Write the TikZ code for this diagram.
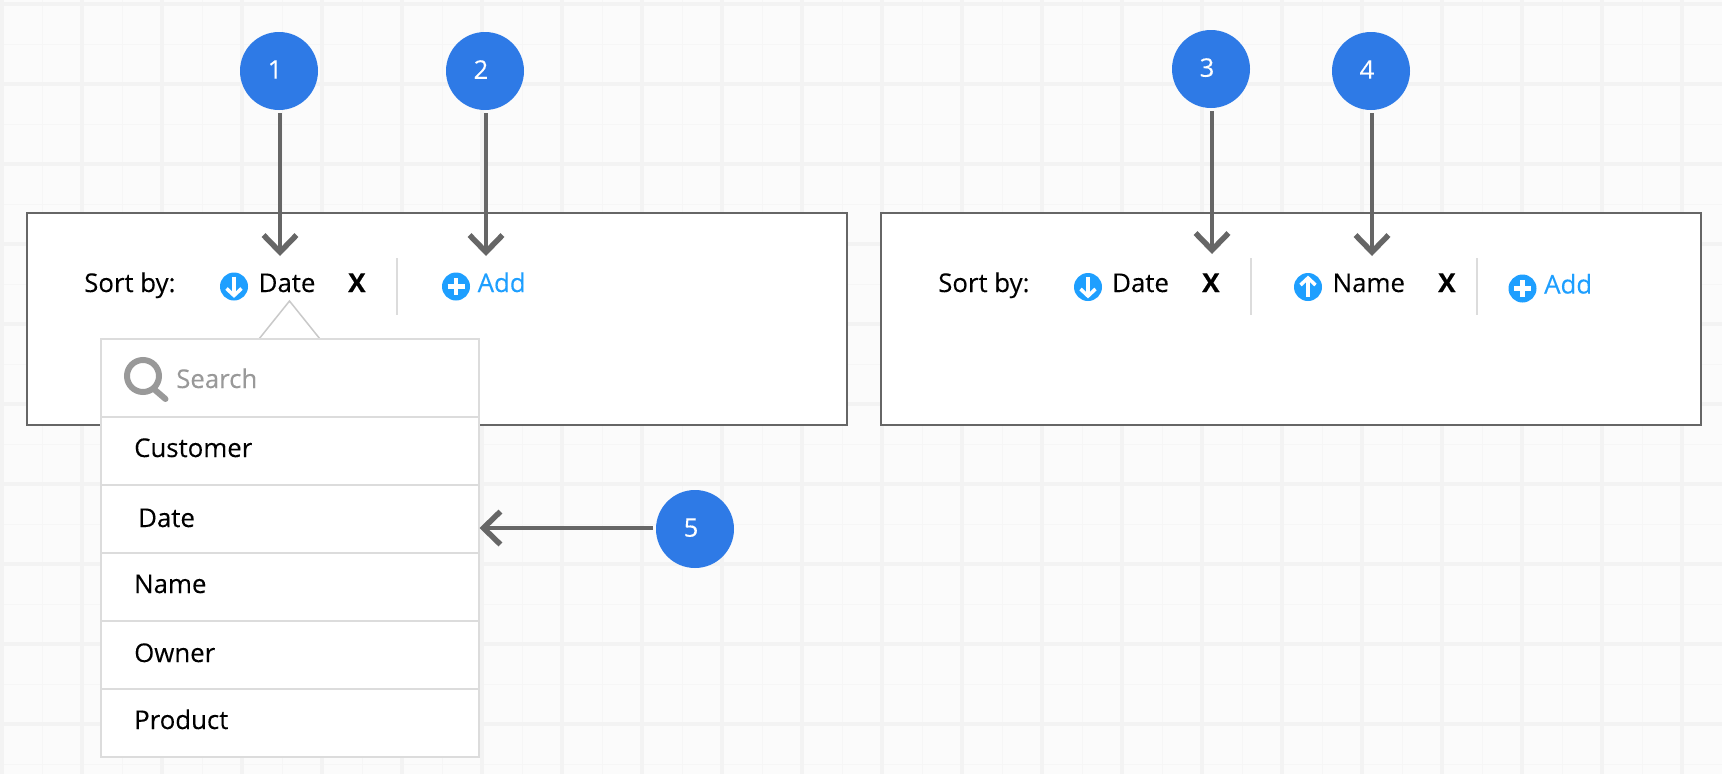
\documentclass[tikz,border=0pt]{standalone}
\usepackage{fontspec}
\setmainfont{Open Sans}[FakeBold=0.15]
\usetikzlibrary{arrows.meta, positioning}

\definecolor{gridbg}{HTML}{FBFBFB}
\definecolor{gridline}{HTML}{F3F3F3}
\definecolor{gridminor}{HTML}{F6F6F6}
\definecolor{calloutblue}{HTML}{2E7AE6}
\definecolor{iconblue}{HTML}{1E9FFF}
\definecolor{framegray}{HTML}{666666}
\definecolor{popgray}{HTML}{DCDCDC}
\definecolor{searchgray}{HTML}{999999}

\newcommand{\calloutnum}[1]{\kern-8pt\raisebox{3pt}{#1}}

\tikzset{
  panel/.style={draw=framegray, line width=2pt, fill=white, anchor=north west,
    minimum width=820pt, minimum height=212pt, inner sep=0pt, outer sep=0pt},
  callout/.style={circle, fill=calloutblue, minimum size=78pt, inner sep=0pt,
    outer sep=0pt, text=white, font=\fontsize{25.6}{25.6}\selectfont},
  pointer/.style={draw=framegray, line width=4pt, shorten <=3pt,
    -{Straight Barb[length=17pt, width=33pt, line width=5.5pt]}},
  label/.style={anchor=base west, inner sep=0pt, text=black,
    font=\fontsize{25.8}{25.8}\selectfont},
  addlabel/.style={label, text=iconblue},
  closex/.style={label, font=\fontsize{26}{26}\selectfont\bfseries},
  divider/.style={draw=popgray, line width=2pt},
  sorticon/.style={circle, fill=iconblue, minimum size=28pt, inner sep=0pt},
  glyph/.style={draw=white, line width=3.5pt},
  poprow/.style={draw=popgray, line width=2pt, fill=white,
    minimum width=378pt, minimum height=68pt, inner sep=0pt, outer sep=0pt},
  pics/downglyph/.style={code={
    \draw[glyph] (0,-10) -- (0,8);
    \draw[glyph] (-7.5,2) -- (0,9) -- (7.5,2);}},
  pics/upglyph/.style={code={
    \draw[glyph] (0,10) -- (0,-8);
    \draw[glyph] (-7.5,-2) -- (0,-9) -- (7.5,-2);}},
  pics/plusglyph/.style={code={
    \draw[glyph, line width=4.5pt] (-8.5,0) -- (8.5,0) (0,-8.5) -- (0,8.5);}},
}

\begin{document}
\begin{tikzpicture}[x=1pt, y=-1pt]
    \useasboundingbox (0,0) rectangle (1722,774);
    \fill[gridbg] (0,0) rectangle (1722,774);

    %background grid
    \foreach \gx in {42,122,...,1722}
        \draw[gridminor, line width=1pt] (\gx,0) -- (\gx,774);
    \foreach \gy in {44,124,...,774}
        \draw[gridminor, line width=1pt] (0,\gy) -- (1722,\gy);
    \foreach \gx in {2,82,...,1722}
        \draw[gridline, line width=4pt] (\gx,0) -- (\gx,774);
    \foreach \gy in {4,84,...,774}
        \draw[gridline, line width=4pt] (0,\gy) -- (1722,\gy);

    %define the two panels
    \node[panel] (leftpanel) at (27,212.5) {};
    \node[panel] (rightpanel) at (881,212.5) {};

    %left panel row
    \node[label] (sortl) at (84,292) {Sort by:};
    \node[sorticon] (icdate) at (234,286.5) {};
    \pic at (icdate) {downglyph};
    \node[label] (datel) at (258.5,292) {Date};
    \node[closex] (xdate) at (348,292) {X};
    \draw[divider] (397,258) -- (397,315);
    \node[sorticon] (icadd) at (456,286.5) {};
    \pic at (icadd) {plusglyph};
    \node[addlabel] (addl) at (477.5,292) {Add};

    %right panel row
    \node[label] (sortr) at (938,292) {Sort by:};
    \node[sorticon] (icdater) at (1088,287) {};
    \pic at (icdater) {downglyph};
    \node[label] (dater) at (1112,292) {Date};
    \node[closex] (xdater) at (1202,292) {X};
    \draw[divider] (1251,258) -- (1251,315);
    \node[sorticon] (icname) at (1308,287) {};
    \pic at (icname) {upglyph};
    \node[label] (namer) at (1332.5,292) {Name};
    \node[closex] (xname) at (1438,292) {X};
    \draw[divider] (1477,258) -- (1477,315);
    \node[sorticon] (icaddr) at (1522.5,288.5) {};
    \pic at (icaddr) {plusglyph};
    \node[addlabel] (addr) at (1544,293.5) {Add};

    %dropdown
    \draw[popgray!80!gray, line width=1.5pt, fill=white] (259,339) -- (289.5,301) -- (320,339);
    \node[poprow, minimum height=78pt, anchor=north west] (searchrow) at (101,339) {};
    \node[poprow, below=0pt of searchrow] (rowcustomer) {};
    \node[poprow, below=0pt of rowcustomer] (rowdate) {};
    \node[poprow, below=0pt of rowdate] (rowname) {};
    \node[poprow, below=0pt of rowname] (rowowner) {};
    \node[poprow, below=0pt of rowowner] (rowproduct) {};

    \draw[searchgray, line width=6pt] (143,376) circle (16);
    \draw[searchgray, line width=6pt, line cap=round] (155,390) -- (165.5,399);
    \node[label, text=searchgray] (searchl) at (176,388) {Search};
    \node[label] (customerl) at (134,457) {Customer};
    \node[label] (datepl) at (138,527) {Date};
    \node[label] (namepl) at (134,593) {Name};
    \node[label] (ownerl) at (134,662) {Owner};
    \node[label] (productl) at (134,729) {Product};

    %define the callouts
    \node[callout] (c1) at (279,71) {\calloutnum{1}};
    \node[callout] (c2) at (485,71) {\calloutnum{2}};
    \node[callout] (c3) at (1211,69) {\calloutnum{3}};
    \node[callout] (c4) at (1371,71) {\calloutnum{4}};
    \node[callout] (c5) at (695,529) {\calloutnum{5}};

    \coordinate (t1) at (280,256);
    \coordinate (t2) at (486,256);
    \coordinate (t3) at (1212,254);
    \coordinate (t4) at (1372,256);
    \coordinate (t5) at (479.5,528);

    %define the links
    \draw[pointer] (c1.south -| t1) -- (t1);
    \draw[pointer] (c2.south -| t2) -- (t2);
    \draw[pointer] (c3.south -| t3) -- (t3);
    \draw[pointer] (c4.south -| t4) -- (t4);
    \draw[pointer] (c5.west |- t5) -- (t5);
\end{tikzpicture}
\end{document}
